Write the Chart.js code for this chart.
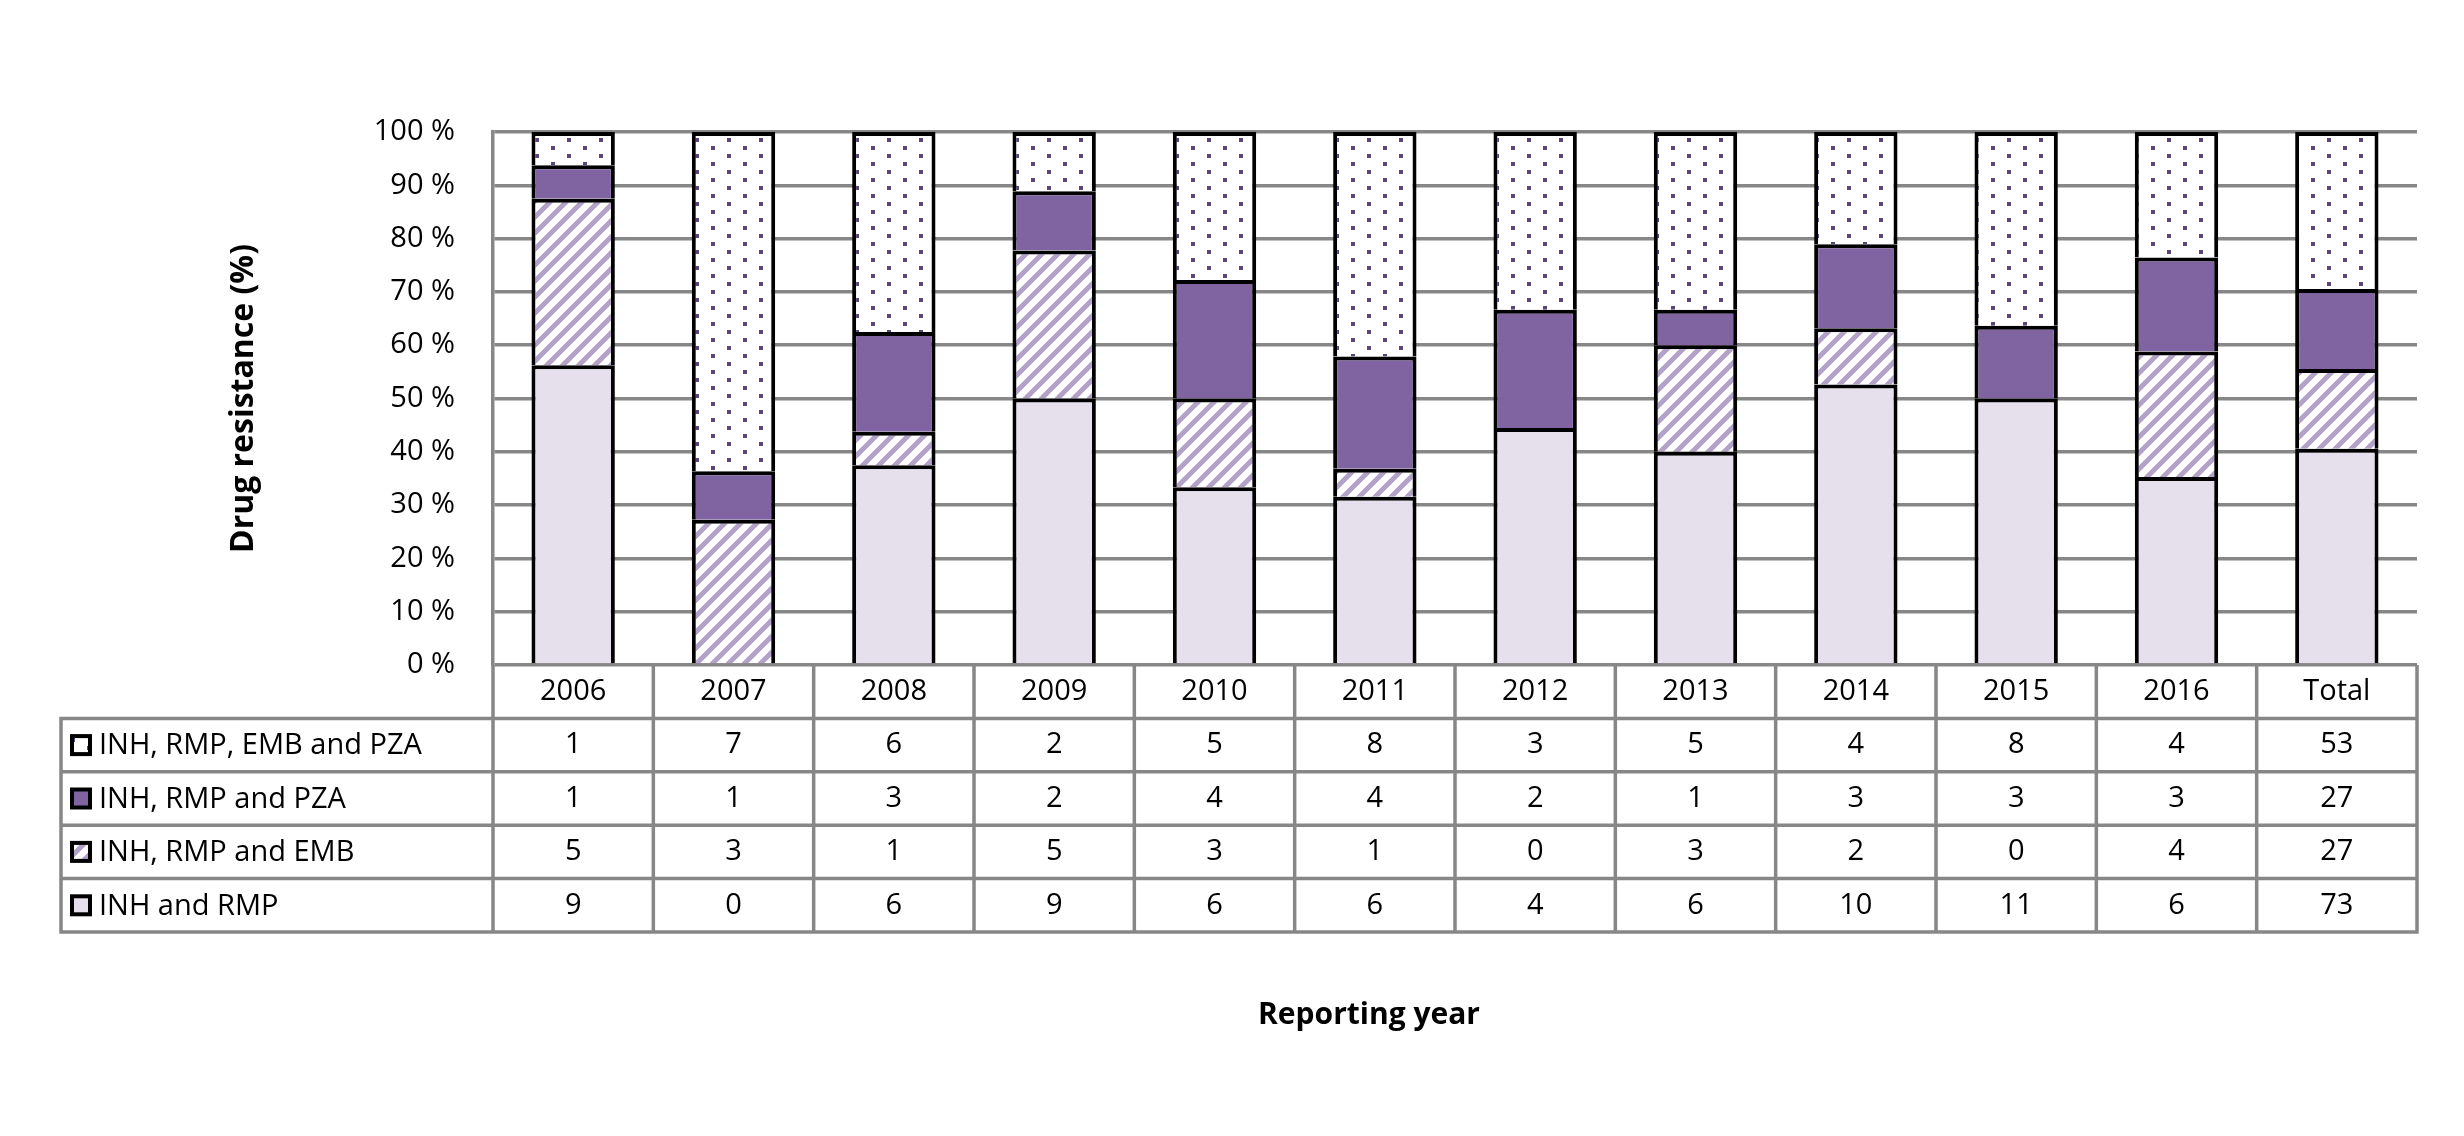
<!DOCTYPE html>
<html lang="en">
<head>
<meta charset="utf-8">
<title>Drug resistance by reporting year</title>
<script src="https://cdn.jsdelivr.net/npm/chart.js@4"></script>
<style>
  html, body { margin: 0; padding: 0; background: #fff; }
  #chart-box { width: 2464px; height: 1136px; position: relative; }
</style>
</head>
<body>
<div id="chart-box"><canvas id="myChart"></canvas></div>
<script>
'use strict';

// ******* DATA *******

let categories = ['2006', '2007', '2008', '2009', '2010', '2011', '2012', '2013', '2014', '2015', '2016', 'Total'];
let inhRmp = [9, 0, 6, 9, 6, 6, 4, 6, 10, 11, 6, 73];
let inhRmpEmb = [5, 3, 1, 5, 3, 1, 0, 3, 2, 0, 4, 27];
let inhRmpPza = [1, 1, 3, 2, 4, 4, 2, 1, 3, 3, 3, 27];
let inhRmpEmbPza = [1, 7, 6, 2, 5, 8, 3, 5, 4, 8, 4, 53];
let yTicks = [0, 10, 20, 30, 40, 50, 60, 70, 80, 90, 100];


// ******* STYLE *******

let gridGray = '#878787';
let lavender = '#e6e0ec';
let purple = '#8064a2';
let hatchPurple = '#b3a2c7';
let dotPurple = '#5a4577';
let fontFamily = "'Open Sans', sans-serif";


// ****** HELPER FUNCTIONS ******

function makeDots() {
  let c = document.createElement('canvas');
  c.width = 32;
  c.height = 16;
  let p = c.getContext('2d');
  p.fillStyle = '#fff';
  p.fillRect(0, 0, 32, 16);
  p.fillStyle = dotPurple;
  p.fillRect(7, 2, 4, 4);
  p.fillRect(23, 10, 4, 4);
  return p.createPattern(c, 'repeat');
}

function makeHatch() {
  let c = document.createElement('canvas');
  c.width = 16;
  c.height = 16;
  let p = c.getContext('2d');
  p.fillStyle = '#fff';
  p.fillRect(0, 0, 16, 16);
  p.strokeStyle = hatchPurple;
  p.lineWidth = 5;
  p.beginPath();
  p.moveTo(-8, 8); p.lineTo(8, -8);
  p.moveTo(0, 16); p.lineTo(16, 0);
  p.moveTo(8, 24); p.lineTo(24, 8);
  p.stroke();
  return p.createPattern(c, 'repeat');
}

function toPercent(series) {
  return series.map(function (v, i) {
    let total = inhRmp[i] + inhRmpEmb[i] + inhRmpPza[i] + inhRmpEmbPza[i];
    return total ? v / total * 100 : 0;
  });
}

let dots = makeDots();
let hatch = makeHatch();

// table rows, top to bottom
let tableRows = [
  { label: 'INH, RMP, EMB and PZA', values: inhRmpEmbPza, fill: dots },
  { label: 'INH, RMP and PZA', values: inhRmpPza, fill: purple },
  { label: 'INH, RMP and EMB', values: inhRmpEmb, fill: hatch },
  { label: 'INH and RMP', values: inhRmp, fill: lavender }
];


// ******* DATA TABLE PLUGIN *******

const dataTable = {
  id: 'dataTable',
  afterDraw(chart) {
    const ctx = chart.ctx;
    const area = chart.chartArea;
    const xScale = chart.scales.x;
    const n = categories.length;
    const cellW = (area.right - area.left) / n;
    const rowH = 53.4;
    const tableLeft = 61;
    const top = area.bottom;
    const bottom = top + rowH * 5;

    ctx.save();
    ctx.strokeStyle = gridGray;
    ctx.lineWidth = 3.5;
    ctx.beginPath();
    for (let i = 0; i <= n; i++) {
      let bx = area.left + i * cellW;
      ctx.moveTo(bx, top);
      ctx.lineTo(bx, bottom);
    }
    ctx.moveTo(tableLeft, top + rowH);
    ctx.lineTo(tableLeft, bottom);
    for (let k = 1; k <= 5; k++) {
      ctx.moveTo(tableLeft - 1.75, top + rowH * k);
      ctx.lineTo(area.right + 1.75, top + rowH * k);
    }
    ctx.stroke();

    ctx.fillStyle = '#000';
    ctx.font = '29px ' + fontFamily;
    ctx.textAlign = 'center';
    ctx.textBaseline = 'middle';
    for (let i = 0; i < n; i++) {
      let cx = xScale.getPixelForValue(i);
      ctx.fillText(categories[i], cx, top + rowH / 2);
      for (let r = 0; r < tableRows.length; r++) {
        ctx.fillText(String(tableRows[r].values[i]), cx, top + rowH * (r + 1.5));
      }
    }

    ctx.textAlign = 'left';
    for (let r = 0; r < tableRows.length; r++) {
      let cy = top + rowH * (r + 1.5);
      ctx.fillStyle = tableRows[r].fill;
      ctx.fillRect(71, cy - 10, 20, 20);
      ctx.strokeStyle = '#000';
      ctx.lineWidth = 4;
      ctx.strokeRect(72, cy - 9, 18, 18);
      ctx.fillStyle = '#000';
      ctx.fillText(tableRows[r].label, 99, cy + 1);
    }

    ctx.font = 'bold 30px ' + fontFamily;
    ctx.textAlign = 'center';
    ctx.fillText('Reporting year', 1369, 1015);
    ctx.restore();
  }
};


// ******* CHART *******

const ctx = document.getElementById('myChart').getContext('2d');
const myChart = new Chart(ctx, {
  type: 'bar',
  data: {
    labels: categories,
    datasets: [
      { label: 'INH and RMP', data: toPercent(inhRmp), backgroundColor: lavender },
      { label: 'INH, RMP and EMB', data: toPercent(inhRmpEmb), backgroundColor: hatch },
      { label: 'INH, RMP and PZA', data: toPercent(inhRmpPza), backgroundColor: purple },
      { label: 'INH, RMP, EMB and PZA', data: toPercent(inhRmpEmbPza), backgroundColor: dots }
    ]
  },
  options: {
    responsive: true,
    maintainAspectRatio: false,
    animation: false,
    font: { family: fontFamily },
    datasets: {
      bar: {
        borderColor: '#000',
        borderWidth: 4,
        barPercentage: 0.52,
        categoryPercentage: 1
      }
    },
    layout: {
      padding: { left: 225, right: 47, top: 132, bottom: 471 }
    },
    plugins: {
      legend: { display: false },
      tooltip: { enabled: false }
    },
    scales: {
      x: {
        display: false,
        stacked: true
      },
      y: {
        stacked: true,
        min: 0,
        max: 100,
        afterBuildTicks: function (scale) {
          scale.ticks = yTicks.map(function (v) { return { value: v }; });
        },
        afterFit: function (scale) {
          scale.width = 268;
        },
        ticks: {
          color: '#000',
          padding: 38,
          font: { family: fontFamily, size: 29 },
          callback: function (v) { return v + ' %'; }
        },
        grid: {
          color: gridGray,
          lineWidth: 3.5,
          drawTicks: false
        },
        border: { display: true, color: gridGray, width: 3.5 },
        title: {
          display: true,
          text: 'Drug resistance (%)',
          color: '#000',
          padding: 0,
          font: { family: fontFamily, size: 32, weight: 'bold' }
        }
      }
    }
  },
  plugins: [dataTable]
});
</script>
</body>
</html>
